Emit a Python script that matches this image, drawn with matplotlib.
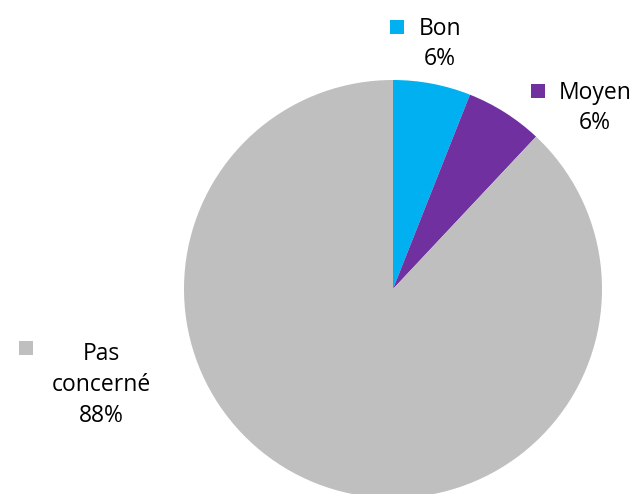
import matplotlib.pyplot as plt

labels = ['Bon', 'Moyen', 'Pas\nconcerné']
values = [6, 6, 88]
colors = ['#00B0F0', '#7030A0', '#BFBFBF']

H = 494
fig = plt.figure(figsize=(6.38, 4.94), dpi=100)
ax = fig.add_axes([0, 0, 1, 1])

ax.pie(values, colors=colors, startangle=90, counterclock=False,
       center=(393, H - 289), radius=209, frame=True)
ax.set_xlim(0, 638)
ax.set_ylim(0, H)
ax.set_aspect('equal')
ax.axis('off')

# label positions (pixel coords from top-left): text centre, marker centre
text_pos = [(440, 44), (595, 108), (101, 385)]
mark_pos = [(397, 27), (538, 91), (26, 348)]

for lab, v, c, (tx, ty), (mx, my) in zip(labels, values, colors, text_pos, mark_pos):
    ax.text(tx, H - ty, f'{lab}\n{v}%', ha='center', va='center',
            fontsize=16.5, family='Open Sans', linespacing=1.38, color='#000000')
    ax.add_patch(plt.Rectangle((mx - 7, H - my - 7), 14, 14, color=c, lw=0))

fig.savefig('out.png', dpi=100)
